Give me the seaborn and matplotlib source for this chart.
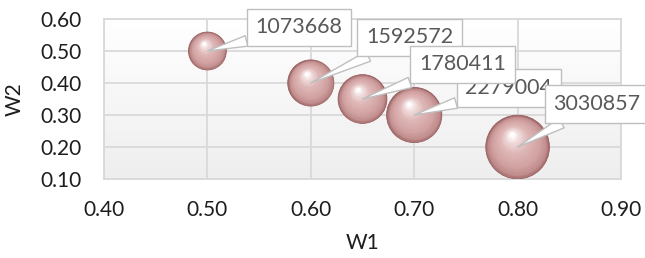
import numpy as np
import pandas as pd
import matplotlib
matplotlib.use("Agg")
import matplotlib.pyplot as plt
import matplotlib.transforms as mtransforms
from matplotlib.colors import LinearSegmentedColormap
import seaborn as sns

# ---- data ----
w1 = [0.50, 0.60, 0.65, 0.70, 0.80]
w2 = [0.50, 0.40, 0.35, 0.30, 0.20]
values = [1073668, 1592572, 1780411, 2279004, 3030857]
x_ticks = [0.40, 0.50, 0.60, 0.70, 0.80, 0.90]
y_ticks = [0.10, 0.20, 0.30, 0.40, 0.50, 0.60]

df = pd.DataFrame({"W1": w1, "W2": w2, "value": values})

sns.set_theme(style="white")
plt.rcParams["font.family"] = ["Lato", "DejaVu Sans"]

fig = plt.figure(figsize=(6.45, 2.58), dpi=100)
ax = fig.add_axes([104 / 645, 1 - 179 / 258, 517 / 645, 160 / 258])

# plot-area gradient background
grad = np.linspace(1, 0, 256).reshape(-1, 1)
bg = LinearSegmentedColormap.from_list("bg", ["#eeeeee", "#ffffff"])
ax.imshow(grad, extent=[0, 1, 0, 1], transform=ax.transAxes, aspect="auto",
          cmap=bg, zorder=0, origin="upper")

# bubble sizes: area proportional to value
SMAX = 2100.0
vmax = max(values)
sizes = [v / vmax * SMAX for v in values]

sns.scatterplot(data=df, x="W1", y="W2", size="value",
                sizes=(min(sizes), max(sizes)), size_norm=(min(values), max(values)),
                color="#a46c6c", edgecolor="#98605f", linewidth=0.6,
                legend=False, ax=ax, zorder=3)

# sphere shading layers
shade = LinearSegmentedColormap.from_list(
    "shade",
    [(0.0, "#a46c6c"), (0.08, "#c08c8c"), (0.28, "#d3a3a3"),
     (0.6, "#dfb7b7"), (0.85, "#f1dcdc"), (1.0, "#ffffff")])
N = 30
for xi, yi, si in zip(w1, w2, sizes):
    r = np.sqrt(si) / 2.0  # radius in points
    hx, hy = -0.19 * r, 0.40 * r
    for k in range(1, N + 1):
        t = k / N
        f = 1 - 0.93 * t
        off = mtransforms.ScaledTranslation(hx * t / 72, hy * t / 72, fig.dpi_scale_trans)
        ax.scatter([xi], [yi], s=si * f * f, color=shade(t), linewidths=0,
                   transform=ax.transData + off, zorder=3 + 0.01 * k)

# data labels (callouts)
label_offsets = [(66, 17), (71, 33), (72, 25), (68, 19.5), (57, 31)]
label_z = [10, 10, 12, 11, 13]
for xi, yi, v, (ox, oy), z in zip(w1, w2, values, label_offsets, label_z):
    ax.annotate(str(v), xy=(xi, yi), xytext=(ox, oy), textcoords="offset points",
                ha="center", va="center", fontsize=15.5, color="#595959",
                bbox=dict(boxstyle="square,pad=0.4", fc="white", ec="#bfbfbf", lw=1),
                arrowprops=dict(arrowstyle="wedge,tail_width=0.5", fc="white",
                                ec="#bfbfbf", lw=1, shrinkA=0, shrinkB=0),
                annotation_clip=False, zorder=z)

ax.set_xlim(0.40, 0.90)
ax.set_ylim(0.10, 0.60)
ax.set_xticks(x_ticks)
ax.set_yticks(y_ticks)
ax.set_xticklabels([f"{t:.2f}" for t in x_ticks])
ax.set_yticklabels([f"{t:.2f}" for t in y_ticks])
ax.tick_params(axis="both", length=0, labelsize=15, colors="#1e1e1e")
ax.tick_params(axis="y", pad=16)
ax.tick_params(axis="x", pad=15)
ax.grid(True, color="#d9d9d9", linewidth=1.3, zorder=1)
ax.set_axisbelow(True)
for sp in ax.spines.values():
    sp.set_color("#d9d9d9")
    sp.set_linewidth(1.3)

ax.set_xlabel("W1", fontsize=15, color="#1e1e1e")
ax.set_ylabel("W2", fontsize=15, color="#1e1e1e")
ax.xaxis.set_label_coords(0.5, -0.335)
ax.yaxis.set_label_coords(-0.153, 0.5)

fig.savefig("out.png", dpi=100)
